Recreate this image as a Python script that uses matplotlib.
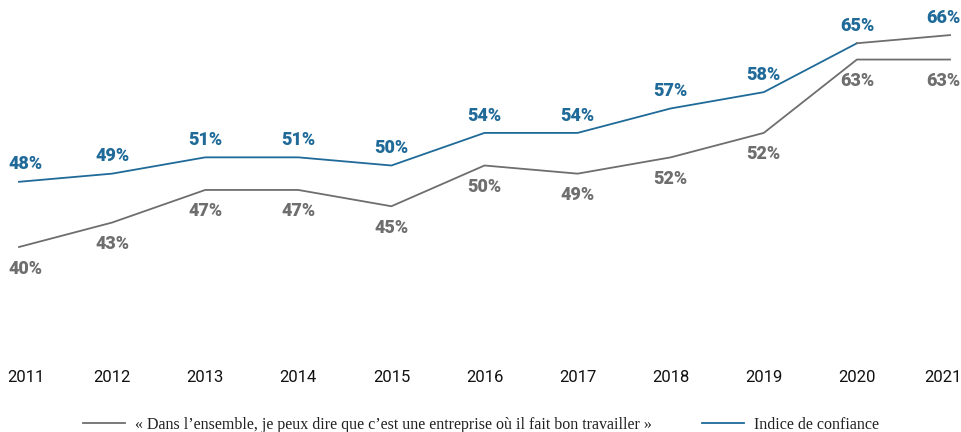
import matplotlib
matplotlib.use("Agg")
import matplotlib.pyplot as plt
from matplotlib.lines import Line2D

years = [2011, 2012, 2013, 2014, 2015, 2016, 2017, 2018, 2019, 2020, 2021]
year_labels = [str(y) for y in years]
indice_values = [48, 49, 51, 51, 50, 54, 54, 57, 59, 65, 66]
indice_labels = ["48%", "49%", "51%", "51%", "50%", "54%", "54%", "57%", "58%", "65%", "66%"]
ensemble_values = [40, 43, 47, 47, 45, 50, 49, 51, 54, 63, 63]
ensemble_labels = ["40%", "43%", "47%", "47%", "45%", "50%", "49%", "52%", "52%", "63%", "63%"]
legend_names = ["« Dans l’ensemble, je peux dire que c’est une entreprise où il fait bon travailler »",
                "Indice de confiance"]

BLUE = "#1f6a98"
GRAY = "#6e6e6e"

fig = plt.figure(figsize=(9.62, 4.32), dpi=100)
ax = fig.add_axes([19/962, 1 - 328.5/432, (950-19)/962, (328.5-2.5)/432])
ax.set_xlim(2011, 2021)
ax.set_ylim(30, 70)
for s in ax.spines.values():
    s.set_visible(False)
ax.set_yticks([])

ax.plot(years[:-1], indice_values[:-1], color=BLUE, lw=1.3, clip_on=False, solid_joinstyle="round")
ax.plot(years[-2:], indice_values[-2:], color=GRAY, lw=1.3, clip_on=False)
ax.plot(years, ensemble_values, color=GRAY, lw=1.3, clip_on=False, solid_joinstyle="round")

n = len(years)
for i in range(n):
    dx = 5 if i == 0 else (-5 if i == n - 1 else 0)
    ax.annotate(indice_labels[i], (years[i], indice_values[i]), xytext=(dx, 12.5),
                textcoords="offset points", ha="center", va="center",
                color=BLUE, fontsize=13, fontweight="black", family="Roboto",
                annotation_clip=False)
    ax.annotate(ensemble_labels[i], (years[i], ensemble_values[i]), xytext=(dx, -15.5),
                textcoords="offset points", ha="center", va="center",
                color=GRAY, fontsize=13, fontweight="black", family="Roboto",
                annotation_clip=False)

for i in range(n):
    dx = 5 if i == 0 else (-5 if i == n - 1 else 0)
    ax.annotate(year_labels[i], (years[i], 0), xycoords=("data", "axes fraction"),
                xytext=(dx, -35), textcoords="offset points", ha="center", va="center",
                color="#111111", fontsize=12, fontweight="normal", family="Roboto",
                annotation_clip=False)
ax.set_xticks([])

handles = [Line2D([], [], color=GRAY, lw=1.3), Line2D([], [], color=BLUE, lw=1.3)]
leg = fig.legend(handles, legend_names, loc="center", bbox_to_anchor=(0.5, 1 - 425/432),
                 ncol=2, frameon=False, handlelength=2.6, handletextpad=0.6, columnspacing=3.2,
                 prop={"family": "Liberation Serif", "size": 11.5})
for t in leg.get_texts():
    t.set_color("#222222")

fig.savefig("out.png", dpi=100)
